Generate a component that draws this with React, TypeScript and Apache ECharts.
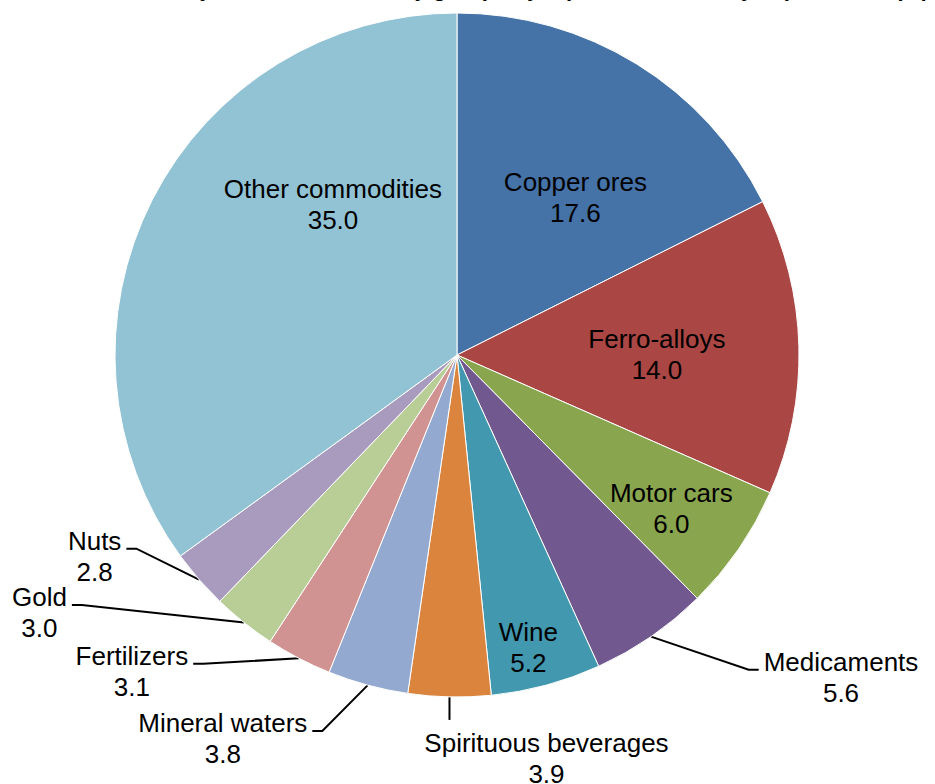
import React, { useEffect, useRef } from "react";
import * as echarts from "echarts";

const categories = [
  "Copper ores",
  "Ferro-alloys",
  "Motor cars",
  "Medicaments",
  "Wine",
  "Spirituous beverages",
  "Mineral waters",
  "Fertilizers",
  "Gold",
  "Nuts",
  "Other commodities",
];
const values = [17.6, 14.0, 6.0, 5.6, 5.2, 3.9, 3.8, 3.1, 3.0, 2.8, 35.0];
const colors = [
  "#4572A7",
  "#AA4643",
  "#89A54E",
  "#71588F",
  "#4198AF",
  "#DB843D",
  "#93A9CF",
  "#D19392",
  "#B9CD96",
  "#A99BBD",
  "#92C3D4",
];
const insideLabels = ["Copper ores", "Ferro-alloys", "Motor cars", "Wine", "Other commodities"];
const titleText =
  "Armenian trade structure by share of commodity groups by top commodities by export value (%)";

// label placement tweaks (pixels, relative to the library's default label positions)
const insideShift: Record<string, [number, number]> = {
  "Copper ores": [27, -9],
  "Ferro-alloys": [26, 4],
  "Motor cars": [71, 55],
  Wine: [26, 125],
  "Other commodities": [31, -72],
};
// offsets of outside label centres from the sector edge point computed by ECharts
const outsideOffset: Record<string, [number, number]> = {
  Medicaments: [190, 40.5],
  "Spirituous beverages": [97, 61.5],
  "Mineral waters": [-145, 53.3],
  Fertilizers: [-167, 13.1],
  Gold: [-204.6, -10.1],
  Nuts: [-104.4, -23.4],
};

const FONT = "'Liberation Sans', Arial, sans-serif";

export default function App() {
  const ref = useRef<HTMLDivElement>(null);
  useEffect(() => {
    if (!ref.current) return;
    const chart = echarts.init(ref.current, undefined, { renderer: "svg" });
    const data = categories.map((name, i) => {
      const inside = insideLabels.includes(name);
      return {
        name,
        value: values[i],
        itemStyle: { color: colors[i] },
        label: { position: inside ? "inside" : "outside" },
        labelLine: inside
          ? { show: false }
          : { show: true, length: 0, length2: 0, lineStyle: { color: "#000", width: 2 } },
      };
    });
    chart.setOption({
      animation: false,
      backgroundColor: "#fff",
      title: {
        text: titleText,
        left: -83,
        top: -22.5,
        padding: 0,
        textStyle: { fontFamily: FONT, fontWeight: "bold", fontSize: 22, lineHeight: 22, color: "#000" },
      },
      series: [
        {
          type: "pie",
          center: [457, 355],
          radius: 342,
          startAngle: 90,
          clockwise: true,
          avoidLabelOverlap: false,
          itemStyle: { borderColor: "#fff", borderWidth: 1 },
          emphasis: { disabled: true },
          label: {
            show: true,
            fontFamily: FONT,
            fontSize: 26,
            lineHeight: 31,
            color: "#000",
            formatter: (p: any) => `${p.name}\n${Number(p.value).toFixed(1)}`,
          },
          labelLayout: (p: any) => {
            const name = categories[p.dataIndex];
            const r = p.labelRect;
            if (insideShift[name]) {
              const [dx, dy] = insideShift[name];
              return { dx, dy };
            }
            const off = outsideOffset[name];
            const p0 = p.labelLinePoints[0];
            const X = p0[0] + off[0];
            const Y = p0[1] + off[1];
            const w = r.width;
            const h = r.height;
            let pts: number[][];
            if (name === "Spirituous beverages") {
              const yEnd = Y - h / 2 - 7.5;
              pts = [
                [p0[0], p0[1]],
                [p0[0], yEnd],
                [p0[0], yEnd],
              ];
            } else {
              const side = X < p0[0] ? 1 : -1;
              const yl = Y - 7.5;
              const endX = side > 0 ? X + w / 2 + 5 : X - w / 2 - 5;
              pts = [
                [p0[0], p0[1]],
                [endX + side * 10, yl],
                [endX, yl],
              ];
            }
            return { x: X, y: Y, align: "center", verticalAlign: "middle", labelLinePoints: pts };
          },
          data,
        },
      ],
    });
    return () => chart.dispose();
  }, []);
  return (
    <div
      ref={ref}
      style={{ position: "fixed", left: 0, top: 0, width: 935, height: 784, background: "#fff" }}
    />
  );
}
